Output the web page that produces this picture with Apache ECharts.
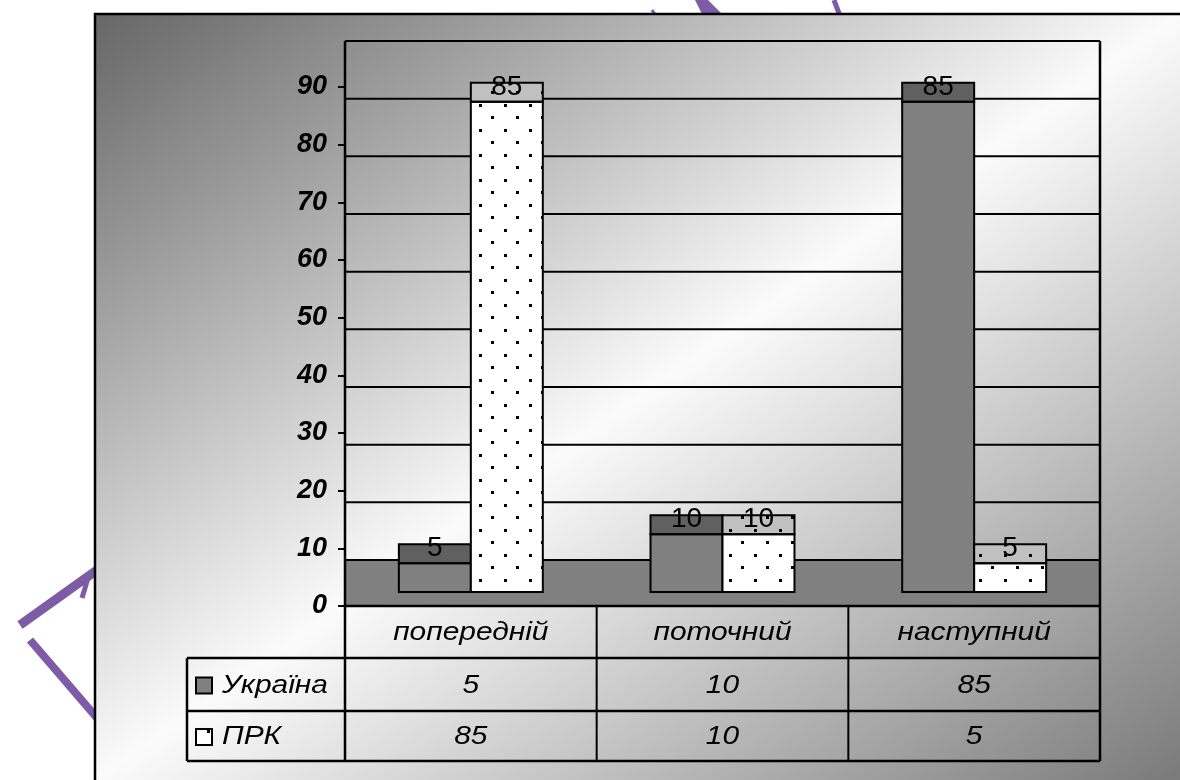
<!DOCTYPE html>
<html>
<head>
<meta charset="utf-8">
<script src="https://cdn.jsdelivr.net/npm/echarts@6/dist/echarts.min.js"></script>
<style>html,body{margin:0;padding:0;background:#fff;}#c{width:1180px;height:780px;}</style>
</head>
<body>
<div id="c"></div>
<script>
// ---- data ----
const categories = ['попередній', 'поточний', 'наступний'];
const seriesNames = ['Україна', 'ПРК'];
const ukraine = [5, 10, 85];
const prk = [85, 10, 5];
const yMin = 0, yMax = 90, yStep = 10;

// ---- style constants ----
const FONT = 'Liberation Sans, Arial, sans-serif';
const WALL = 46;       // back wall vertical offset (px)
const BAR_FRONT = 14;  // bar front plane offset
const BAR_DEPTH = 19;  // bar depth (cap height)
const TABLE_LEFT = 187;
const ROWS = [606, 658, 711, 761];

// dot pattern
function dotCanvas() {
  const cv = document.createElement('canvas');
  cv.width = 25; cv.height = 25;
  const ctx = cv.getContext('2d');
  ctx.fillStyle = '#000';
  ctx.fillRect(4, 4, 3, 3);
  ctx.fillRect(16, 16, 3, 3);
  return cv;
}
const DOTS = { image: dotCanvas(), repeat: 'repeat' };

const chart = echarts.init(document.getElementById('c'), null, { renderer: 'canvas' });

function frameRender(params, api) {
  const cs = params.coordSys;
  const left = cs.x, right = cs.x + cs.width;
  const yb = v => api.coord([0, v])[1] - WALL;
  const yf = v => api.coord([0, v])[1];
  const ch = [];
  const ln = (x1, y1, x2, y2, w) => ({ type: 'line', shape: { x1, y1, x2, y2 }, style: { stroke: '#000', lineWidth: w || 2 } });
  // floor
  ch.push({ type: 'rect', shape: { x: left, y: yb(0), width: right - left, height: yf(0) - yb(0) },
    style: { fill: '#808080', stroke: '#000', lineWidth: 2 } });
  // gridlines on back wall
  for (let v = yMin + yStep; v <= yMax; v += yStep) ch.push(ln(left, yb(v), right, yb(v), 2));
  // wall edges
  ch.push(ln(left, yb(yMax), left, ROWS[3], 2.5));
  ch.push(ln(right, yb(yMax), right, ROWS[3], 2.5));
  // table
  const bw = cs.width / categories.length;
  ch.push(ln(left, ROWS[0], right, ROWS[0], 2.5));
  for (let r = 1; r < ROWS.length; r++) ch.push(ln(TABLE_LEFT, ROWS[r], right, ROWS[r], 2.5));
  ch.push(ln(TABLE_LEFT, ROWS[1], TABLE_LEFT, ROWS[3], 2.5));
  for (let i = 1; i < categories.length; i++) ch.push(ln(left + bw * i, ROWS[0], left + bw * i, ROWS[3], 2));
  const txt = (text, x, y, align) => ({ type: 'text', x, y, scaleX: 1.15, scaleY: 1,
    style: { text, x: 0, y: 0, font: 'italic 26px ' + FONT, fill: '#000',
    align: align || 'center', verticalAlign: 'middle', textAlign: align || 'center', textVerticalAlign: 'middle' } });
  categories.forEach((c, i) => ch.push(txt(c, left + bw * (i + 0.5), (ROWS[0] + ROWS[1]) / 2 + 1)));
  const vals = [ukraine, prk];
  vals.forEach((arr, r) => {
    const cy = (ROWS[r + 1] + ROWS[r + 2]) / 2 + 1;
    arr.forEach((v, i) => ch.push(txt(String(v), left + bw * (i + 0.5), cy)));
    // legend key
    const ky = cy - 8;
    ch.push({ type: 'rect', shape: { x: 196, y: ky, width: 16, height: 16 },
      style: { fill: r === 0 ? '#808080' : '#fff', stroke: '#000', lineWidth: 2 } });
    if (r === 1) ch.push({ type: 'rect', shape: { x: 207, y: ky + 1, width: 3, height: 3 }, style: { fill: '#000' } });
    ch.push(txt(seriesNames[r], 222, cy, 'left'));
  });
  return { type: 'group', children: ch };
}

function barRender(si) {
  return function (params, api) {
    const idx = api.value(0), v = api.value(1);
    const c = api.coord([idx, 0]);
    const top = api.coord([idx, v])[1] - BAR_FRONT;
    const bottom = c[1] - BAR_FRONT;
    const bw = api.size([1, 0])[0];
    const w = bw * 0.286;
    const x = si === 0 ? c[0] - w : c[0];
    const ch = [];
    const frontFill = si === 0 ? '#808080' : '#ffffff';
    const capFill = si === 0 ? '#606060' : '#c0c0c0';
    ch.push({ type: 'rect', shape: { x, y: top, width: w, height: bottom - top }, style: { fill: frontFill } });
    ch.push({ type: 'rect', shape: { x, y: top - BAR_DEPTH, width: w, height: BAR_DEPTH }, style: { fill: capFill } });
    if (si === 1) {
      ch.push({ type: 'rect', shape: { x, y: top - BAR_DEPTH, width: w, height: bottom - top + BAR_DEPTH }, style: { fill: DOTS } });
    }
    ch.push({ type: 'rect', shape: { x, y: top, width: w, height: bottom - top }, style: { fill: 'none', stroke: '#000', lineWidth: 2 } });
    ch.push({ type: 'rect', shape: { x, y: top - BAR_DEPTH, width: w, height: BAR_DEPTH }, style: { fill: 'none', stroke: '#000', lineWidth: 2 } });
    ch.push({ type: 'text', style: { text: String(v), x: x + w / 2, y: top - BAR_DEPTH + 4, font: '28px ' + FONT, fill: '#000',
      align: 'center', verticalAlign: 'middle', textAlign: 'center', textVerticalAlign: 'middle' } });
    return { type: 'group', children: ch };
  };
}

const purple = '#7d5ba6';
chart.setOption({
  animation: false,
  backgroundColor: '#ffffff',
  graphic: [
    { type: 'polygon', z: -20, shape: { points: [[695, 0], [708, 0], [724, 16], [703, 16]] }, style: { fill: purple } },
    { type: 'line', z: -20, shape: { x1: 834, y1: 0, x2: 840, y2: 16 }, style: { stroke: purple, lineWidth: 5 } },
    { type: 'line', z: -20, shape: { x1: 652, y1: 10, x2: 656, y2: 16 }, style: { stroke: purple, lineWidth: 3 } },
    { type: 'line', z: -20, shape: { x1: 97, y1: 570, x2: 20, y2: 625 }, style: { stroke: purple, lineWidth: 9 } },
    { type: 'line', z: -20, shape: { x1: 88, y1: 578, x2: 82, y2: 598 }, style: { stroke: purple, lineWidth: 5 } },
    { type: 'line', z: -20, shape: { x1: 30, y1: 640, x2: 97, y2: 718 }, style: { stroke: purple, lineWidth: 8 } },
    { type: 'rect', z: -10, shape: { x: 95, y: 14, width: 1110, height: 790 },
      style: { stroke: '#000', lineWidth: 2.5,
        fill: { type: 'linear', global: true, x: 95, y: 14, x2: 817, y2: 1037,
          colorStops: [{ offset: 0, color: '#666666' }, { offset: 0.5, color: '#fbfbfb' }, { offset: 1, color: '#7a7a7a' }] } } }
  ],
  grid: { left: 345, right: 80, top: 87, bottom: 174 },
  xAxis: { type: 'category', data: categories, show: false },
  yAxis: {
    type: 'value', min: yMin, max: yMax, interval: yStep,
    axisLine: { show: false },
    axisTick: { show: true, length: 7, lineStyle: { color: '#000', width: 2 } },
    splitLine: { show: false },
    axisLabel: { margin: 18, color: '#000', fontSize: 27, fontWeight: 'bold', fontStyle: 'italic', fontFamily: FONT }
  },
  series: [
    { type: 'custom', name: 'frame', data: [[0, 0]], renderItem: frameRender, silent: true, z: 1 },
    { type: 'custom', name: seriesNames[0], data: ukraine.map((v, i) => [i, v]), renderItem: barRender(0), z: 2 },
    { type: 'custom', name: seriesNames[1], data: prk.map((v, i) => [i, v]), renderItem: barRender(1), z: 3 }
  ]
});
</script>
</body>
</html>
